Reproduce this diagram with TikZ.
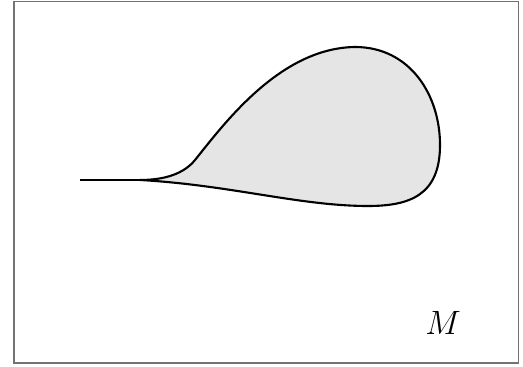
\documentclass[tikz,border=0pt]{standalone}
\begin{document}
\begin{tikzpicture}[
        x=0.0125cm, y=-0.0125cm,
        every node/.style={font=\large},
        frame/.style={draw=black!55, line width=0.5pt},
        blob/.style={draw, line width=0.75pt, fill=black!10, line join=round}
    ]
        \useasboundingbox (0,0) rectangle (523,367);
        \draw[frame] (14,1.5) rectangle (518.5,363);

        \coordinate (tailstart) at (80,180);
        \coordinate (cusp) at (140,180);

        \draw[blob] (cusp) .. controls (165,180) and (184,173.6) .. (195,160)
            .. controls (224,124) and (280,48) .. (355,47)
            .. controls (410,47) and (440,95) .. (440,145)
            .. controls (440,195) and (410,206) .. (368,206)
            .. controls (300,206) and (230,185) .. (cusp) -- cycle;
        \draw[line width=0.75pt] (tailstart) -- (cusp);

        \node (mlabel) at (443,323) {$M$};
    \end{tikzpicture}
\end{document}
